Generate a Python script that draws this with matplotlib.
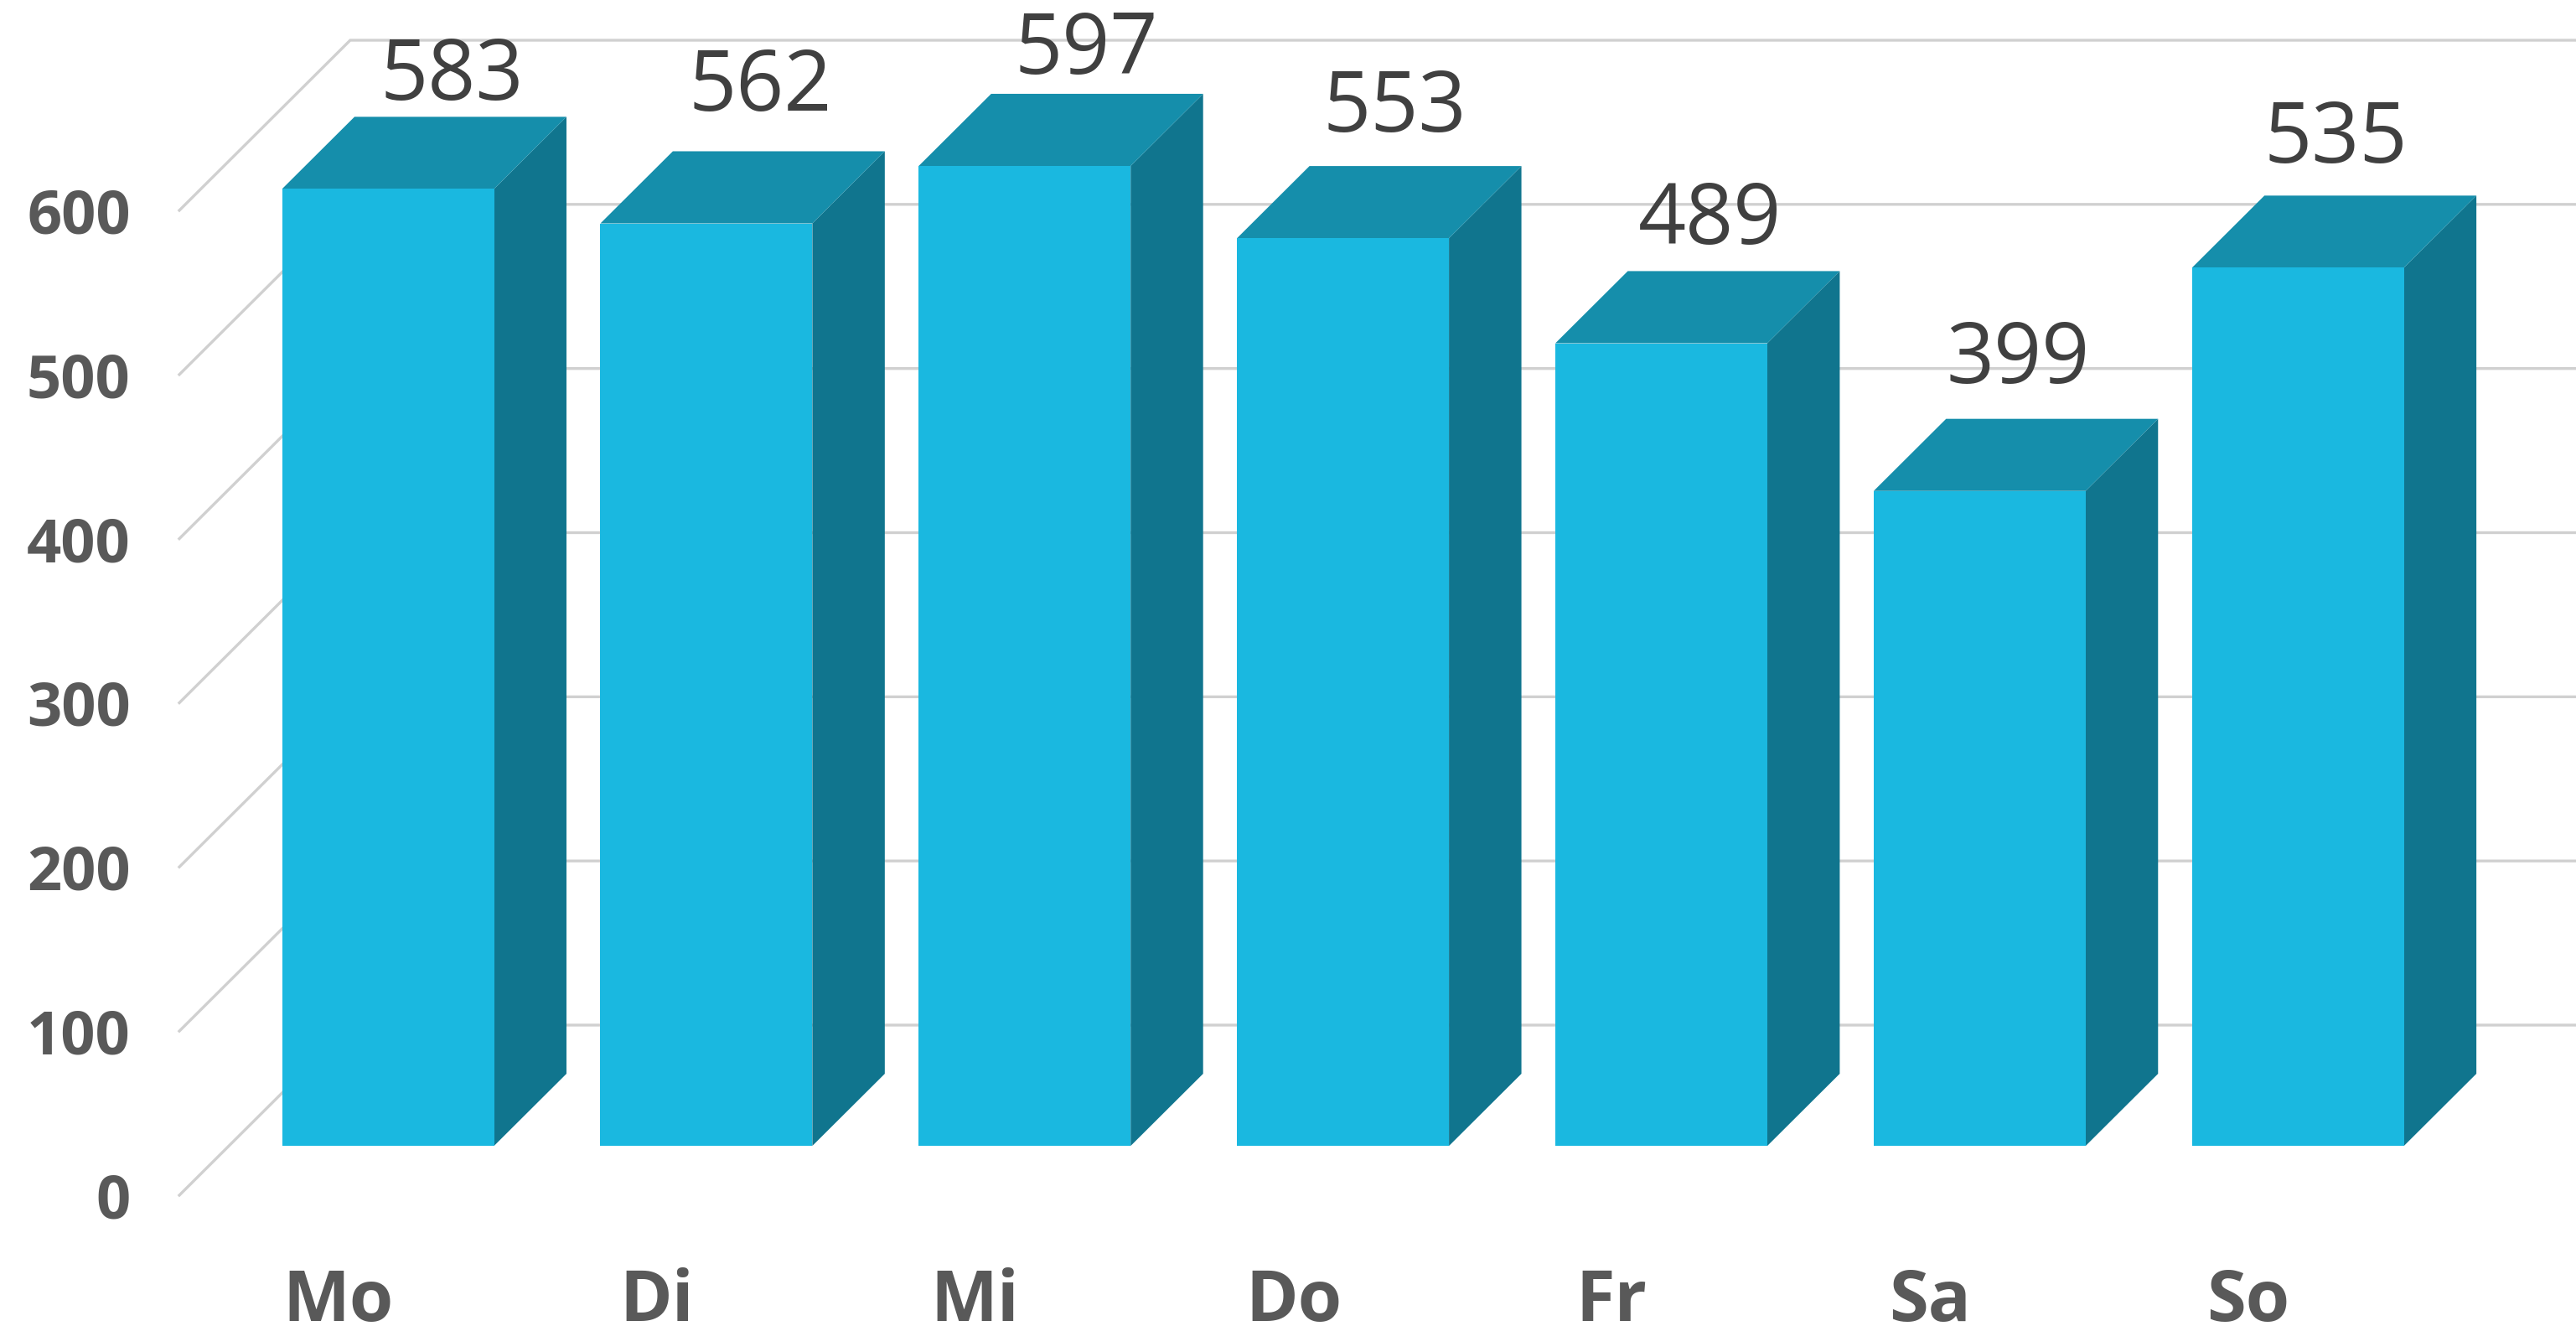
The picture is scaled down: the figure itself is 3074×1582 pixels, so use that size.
import matplotlib
matplotlib.use("Agg")
import matplotlib.pyplot as plt
from matplotlib.patches import Polygon

categories = ["Mo", "Di", "Mi", "Do", "Fr", "Sa", "So"]
values = [583, 562, 597, 553, 489, 399, 535]
y_ticks = [0, 100, 200, 300, 400, 500, 600]

W, H = 3074, 1582
FRONT = "#1AB8E0"; SIDE = "#10758E"; TOP = "#158EAB"; GRID = "#D0D0D0"
TXT = "#595959"; LBL = "#404040"

fig = plt.figure(figsize=(W/100, H/100), dpi=100, facecolor="white")
L, R, B, T = 214, 2873, 1426, 251
ax = fig.add_axes([L/W, 1-B/H, (R-L)/W, (B-T)/H])
ax.set_xlim(-0.5, 6.5); ax.set_ylim(0, 600)
ax.patch.set_alpha(0)
for s in ax.spines.values():
    s.set_visible(False)

# oblique projection: full depth of the chart box, in data units
DX = 204/380
DY = 203/(1175/600)
BAR_W = 253/380
D0, D1 = 0.29, 0.714

def proj(x, y, d):
    return (x + d*DX, y + d*DY)

for t in y_ticks:
    xs, ys = zip(proj(-0.5, t, 0), proj(-0.5, t, 1), proj(6.6, t, 1))
    ax.plot(xs, ys, color=GRID, lw=2.4, clip_on=False, zorder=1, solid_joinstyle="miter")

for i, v in enumerate(values):
    a, b = i - BAR_W/2, i + BAR_W/2
    ax.add_patch(Polygon([proj(b, 0, D0), proj(b, 0, D1), proj(b, v, D1), proj(b, v, D0)],
                         fc=SIDE, ec="none", clip_on=False, zorder=2))
    ax.add_patch(Polygon([proj(a, v, D0), proj(a, v, D1), proj(b, v, D1), proj(b, v, D0)],
                         fc=TOP, ec="none", clip_on=False, zorder=2))
    ax.add_patch(Polygon([proj(a, 0, D0), proj(b, 0, D0), proj(b, v, D0), proj(a, v, D0)],
                         fc=FRONT, ec="none", clip_on=False, zorder=3))

# manually placed data labels: offset in pixels from each bar's back top edge centre
label_dx = [-10, -22, -13, -25, -28, -41, -41]
label_dy = [20.5, 48.6, 24, 41, 32.5, 43, 39.5]
for i, v in enumerate(values):
    x, y = proj(i, v, D1)
    ax.annotate(str(v), (x, y), xytext=(label_dx[i]*0.72, label_dy[i]*0.72), textcoords="offset points",
                ha="center", va="baseline", fontsize=72, family="Open Sans", color=LBL,
                annotation_clip=False, zorder=4)

ax.set_yticks(y_ticks)
ax.set_xticks(range(len(categories)))
ax.set_xticklabels(categories)
ax.tick_params(axis="both", length=0)
ax.tick_params(axis="y", pad=42, labelsize=52, labelcolor=TXT)
ax.tick_params(axis="x", labelsize=61, labelcolor=TXT, pad=0)
for lab in ax.get_yticklabels() + ax.get_xticklabels():
    lab.set_family("Open Sans"); lab.set_fontweight("bold")
# category labels sit on a common baseline below the chart box
for lab in ax.get_xticklabels():
    lab.set_verticalalignment("baseline")
ax.tick_params(axis="x", pad=-0)
ax.xaxis.set_tick_params(pad=(1576-1426)*0.72)

fig.savefig("out.png", dpi=100)
